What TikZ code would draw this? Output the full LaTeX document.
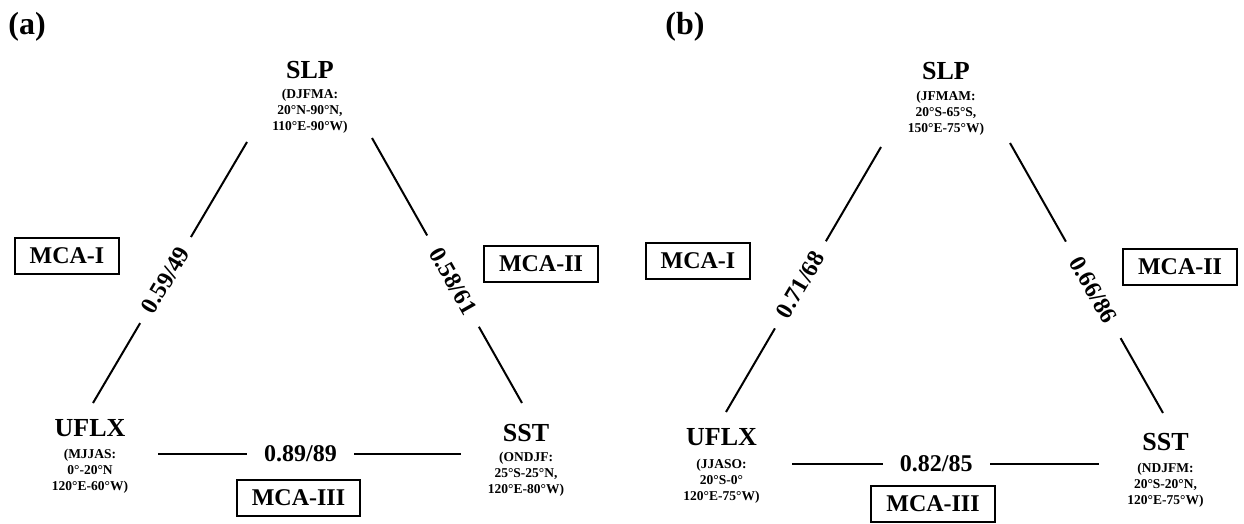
\documentclass[tikz,border=0pt]{standalone}
\usepackage{fontspec}
\setmainfont{Liberation Serif}
\begin{document}
\begin{tikzpicture}[x=1pt,y=-1pt,
  paneltag/.style={font=\fontsize{32}{34}\selectfont\bfseries, inner sep=0pt},
  vtitle/.style={font=\fontsize{26}{28}\selectfont\bfseries, inner sep=0pt, anchor=base},
  vsub/.style={font=\fontsize{13.5}{15.8}\selectfont\bfseries, align=center, inner sep=0pt, anchor=north},
  link/.style={line width=2pt},
  corr/.style={font=\fontsize{24}{26}\selectfont\bfseries, fill=white, inner ysep=2pt},
  mcabox/.style={draw, line width=2pt, font=\fontsize{24}{26}\selectfont\bfseries,
    inner xsep=15pt, minimum height=36pt},
]
\useasboundingbox (0,0) rectangle (1244,524);

% ---------------- panel (a) ----------------
\node[paneltag] (tagA) at (27,27) {(a)};

\node[vtitle] (aSLP) at (310,79) {SLP};
\node[vsub] (aSLPsub) at (310,89) {(DJFMA:\\20°N-90°N,\\110°E-90°W)};
\node[vtitle] (aUFLX) at (90,436) {UFLX};
\node[vsub] (aUFLXsub) at (90,449) {(MJJAS:\\0°-20°N\\120°E-60°W)};
\node[vtitle] (aSST) at (526,441) {SST};
\node[vsub] (aSSTsub) at (526,452) {(ONDJF:\\25°S-25°N,\\120°E-80°W)};

\coordinate (aSLPl) at (247,142);
\coordinate (aSLPr) at (372,138);
\coordinate (aUFLXt) at (93,403);
\coordinate (aUFLXr) at (158,454);
\coordinate (aSSTt) at (522,403);
\coordinate (aSSTl) at (461,454);

\draw[link] (aSLPl) -- node[corr, sloped, pos=0.529, inner xsep=13.5pt] (aC1) {0.59/49} (aUFLXt);
\draw[link] (aSLPr) -- node[corr, sloped, pos=0.54, inner xsep=16pt] (aC2) {0.58/61} (aSSTt);
\draw[link] (aUFLXr) -- node[corr, pos=0.47, inner xsep=17pt] (aC3) {0.89/89} (aSSTl);

\node[mcabox] (aM1) at (67,255.5) {MCA-I};
\node[mcabox] (aM2) at (541,264) {MCA-II};
\node[mcabox] (aM3) at (298.5,497.5) {MCA-III};

% ---------------- panel (b) ----------------
\node[paneltag] (tagB) at (685,27) {(b)};

\node[vtitle] (bSLP) at (946,80) {SLP};
\node[vsub] (bSLPsub) at (946,91) {(JFMAM:\\20°S-65°S,\\150°E-75°W)};
\node[vtitle] (bUFLX) at (721.5,445) {UFLX};
\node[vsub] (bUFLXsub) at (721.5,459) {(JJASO:\\20°S-0°\\120°E-75°W)};
\node[vtitle] (bSST) at (1165.5,450) {SST};
\node[vsub] (bSSTsub) at (1165.5,463) {(NDJFM:\\20°S-20°N,\\120°E-75°W)};

\coordinate (bSLPl) at (881,147);
\coordinate (bSLPr) at (1010,143);
\coordinate (bUFLXt) at (726,412);
\coordinate (bUFLXr) at (792,464);
\coordinate (bSSTt) at (1163,413);
\coordinate (bSSTl) at (1099,464);

\draw[link] (bSLPl) -- node[corr, sloped, pos=0.52, inner xsep=14pt] (bC1) {0.71/68} (bUFLXt);
\draw[link] (bSLPr) -- node[corr, sloped, pos=0.544, inner xsep=19pt] (bC2) {0.66/86} (bSSTt);
\draw[link] (bUFLXr) -- node[corr, pos=0.47, inner xsep=17pt] (bC3) {0.82/85} (bSSTl);

\node[mcabox] (bM1) at (698,261) {MCA-I};
\node[mcabox] (bM2) at (1180,267) {MCA-II};
\node[mcabox] (bM3) at (933,504) {MCA-III};
\end{tikzpicture}
\end{document}
